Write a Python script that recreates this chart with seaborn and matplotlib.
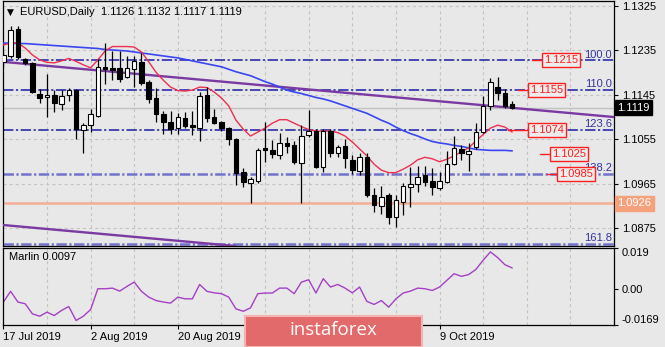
import matplotlib
matplotlib.use("Agg")
import matplotlib.pyplot as plt
import matplotlib.transforms as mtransforms
from matplotlib.patches import Rectangle
import numpy as np
import pandas as pd
import seaborn as sns

sns.set_theme(style="white")
plt.rcParams["font.family"] = ["Liberation Sans", "DejaVu Sans"]
plt.rcParams["lines.scale_dashes"] = False

# ---- EURUSD daily bars -------------------------------------------------
dates = pd.bdate_range("2019-07-17", "2019-10-23")

opens = [1.1212, 1.1224, 1.1278, 1.1217, 1.1209, 1.1148, 1.1140, 1.1146, 1.1126, 1.1146,
         1.1155, 1.1074, 1.1085, 1.1103, 1.1202, 1.1199, 1.1199, 1.1181, 1.1198, 1.1212,
         1.1172, 1.1138, 1.1106, 1.1091, 1.1078, 1.1099, 1.1084, 1.1079, 1.1144, 1.1101,
         1.1091, 1.1078, 1.1056, 1.0990, 1.0967, 1.0971, 1.1037, 1.1034, 1.1024, 1.1047,
         1.1044, 1.1007, 1.1064, 1.1073, 1.1000, 1.1073, 1.1027, 1.1042, 1.1014, 1.0992,
         1.1020, 1.0943, 1.0921, 1.0943, 1.0899, 1.0929, 1.0958, 1.0964, 1.0983, 1.0972,
         1.0956, 1.0970, 1.1005, 1.1036, 1.1025, 1.1039, 1.1071, 1.1123, 1.1161, 1.1150,
         1.1126]
highs = [1.1234, 1.1285, 1.1285, 1.1220, 1.1212, 1.1157, 1.1187, 1.1155, 1.1155, 1.1159,
         1.1157, 1.1088, 1.1117, 1.1218, 1.1251, 1.1234, 1.1233, 1.1224, 1.1224, 1.1230,
         1.1175, 1.1159, 1.1113, 1.1113, 1.1108, 1.1111, 1.1113, 1.1151, 1.1162, 1.1117,
         1.1092, 1.1080, 1.1058, 1.0997, 1.0979, 1.1038, 1.1090, 1.1054, 1.1068, 1.1061,
         1.1051, 1.1084, 1.1115, 1.1076, 1.1076, 1.1076, 1.1044, 1.1057, 1.1024, 1.1027,
         1.1027, 1.0957, 1.0960, 1.0947, 1.0943, 1.0968, 1.1000, 1.1001, 1.1001, 1.0997,
         1.0990, 1.1032, 1.1062, 1.1044, 1.1047, 1.1089, 1.1142, 1.1180, 1.1181, 1.1157,
         1.1132]
lows = [1.1201, 1.1220, 1.1218, 1.1206, 1.1150, 1.1128, 1.1101, 1.1111, 1.1115, 1.1133,
        1.1057, 1.1028, 1.1070, 1.1101, 1.1167, 1.1175, 1.1172, 1.1179, 1.1162, 1.1165,
        1.1129, 1.1091, 1.1066, 1.1066, 1.1066, 1.1078, 1.1064, 1.1051, 1.1091, 1.1086,
        1.1072, 1.1044, 1.0963, 1.0958, 1.0926, 1.0967, 1.1009, 1.1017, 1.1016, 1.1027,
        1.1005, 1.0926, 1.1060, 1.0997, 1.0990, 1.1020, 1.1020, 1.0997, 1.0985, 1.0983,
        1.0939, 1.0909, 1.0904, 1.0884, 1.0879, 1.0902, 1.0919, 1.0949, 1.0960, 1.0943,
        1.0953, 1.0967, 1.1003, 1.1014, 1.0992, 1.1036, 1.1068, 1.1115, 1.1135, 1.1118,
        1.1117]
closes = [1.1226, 1.1276, 1.1222, 1.1209, 1.1152, 1.1138, 1.1146, 1.1129, 1.1143, 1.1155,
          1.1076, 1.1084, 1.1107, 1.1202, 1.1198, 1.1196, 1.1177, 1.1199, 1.1214, 1.1169,
          1.1137, 1.1107, 1.1091, 1.1076, 1.1101, 1.1082, 1.1080, 1.1142, 1.1099, 1.1089,
          1.1078, 1.1056, 1.0987, 1.0970, 1.0975, 1.1034, 1.1034, 1.1026, 1.1047, 1.1042,
          1.1010, 1.1063, 1.1072, 1.1000, 1.1073, 1.1027, 1.1040, 1.1017, 1.0993, 1.1020,
          1.0942, 1.0923, 1.0938, 1.0899, 1.0933, 1.0960, 1.0964, 1.0979, 1.0970, 1.0958,
          1.0971, 1.1005, 1.1038, 1.1027, 1.1032, 1.1071, 1.1123, 1.1172, 1.1150, 1.1123,
          1.1119]

# fast (red) and slow (blue) moving averages
ma_fast = [1.1246, 1.1250, 1.1250, 1.1240, 1.1226, 1.1216, 1.1211, 1.1210, 1.1214, 1.1219,
           1.1213, 1.1206, 1.1200, 1.1216, 1.1234, 1.1243, 1.1243, 1.1243, 1.1242, 1.1232,
           1.1212, 1.1191, 1.1175, 1.1161, 1.1154, 1.1153, 1.1155, 1.1161, 1.1160, 1.1151,
           1.1139, 1.1123, 1.1094, 1.1076, 1.1062, 1.1070, 1.1078, 1.1088, 1.1095, 1.1095,
           1.1088, 1.1081, 1.1075, 1.1072, 1.1072, 1.1072, 1.1069, 1.1062, 1.1050, 1.1036,
           1.1022, 1.1005, 1.0993, 1.0988, 1.0988, 1.0995, 1.1003, 1.1014, 1.1019, 1.1016,
           1.1010, 1.1015, 1.1022, 1.1030, 1.1038, 1.1052, 1.1065, 1.1078, 1.1084, 1.1080,
           1.1070]
ma_slow = [1.1250, 1.1250, 1.1249, 1.1249, 1.1248, 1.1247, 1.1246, 1.1245, 1.1244, 1.1243,
           1.1242, 1.1241, 1.1240, 1.1239, 1.1237, 1.1236, 1.1235, 1.1234, 1.1232, 1.1230,
           1.1228, 1.1226, 1.1224, 1.1222, 1.1220, 1.1217, 1.1214, 1.1211, 1.1208, 1.1205,
           1.1202, 1.1197, 1.1192, 1.1188, 1.1184, 1.1178, 1.1172, 1.1167, 1.1161, 1.1155,
           1.1151, 1.1148, 1.1144, 1.1140, 1.1137, 1.1133, 1.1128, 1.1123, 1.1118, 1.1113,
           1.1108, 1.1101, 1.1094, 1.1088, 1.1080, 1.1073, 1.1067, 1.1062, 1.1056, 1.1051,
           1.1048, 1.1046, 1.1043, 1.1041, 1.1038, 1.1035, 1.1034, 1.1033, 1.1033, 1.1033,
           1.1032]

marlin = [-0.0062, -0.0012, -0.0062, -0.0070, -0.0117, -0.0128, -0.0109, -0.0125, -0.0101, -0.0083,
          -0.0148, -0.0128, -0.0097, 0.0000, 0.0000, 0.0003, -0.0011, 0.0011, 0.0031, -0.0012,
          -0.0039, -0.0055, -0.0062, -0.0067, -0.0039, -0.0047, -0.0047, 0.0020, -0.0012, -0.0019,
          -0.0023, -0.0039, -0.0094, -0.0105, -0.0089, -0.0023, -0.0020, -0.0020, 0.0003, 0.0003,
          -0.0023, 0.0031, 0.0042, -0.0020, 0.0047, 0.0008, 0.0020, 0.0003, -0.0019, 0.0008,
          -0.0059, -0.0073, -0.0055, -0.0086, -0.0047, -0.0020, -0.0011, 0.0003, 0.0000, -0.0008,
          0.0008, 0.0039, 0.0070, 0.0058, 0.0066, 0.0090, 0.0133, 0.0172, 0.0145, 0.0112,
          0.0097]

# Fibonacci extension levels
fib_levels = [1.1215, 1.1155, 1.1074, 1.0985, 1.0844]
fib_labels = ["100.0", "110.0", "123.6", "138.2", "161.8"]
# target price marks
target_prices = [1.1215, 1.1155, 1.1074, 1.1025, 1.0985]
support_level = 1.0926
# price channel: upper line through two bars, lower line parallel to it
channel_bars = [0, 70]
channel_upper = [1.1212, 1.1119]
channel_lower_start = 1.0882

price_ticks = [1.1325, 1.1235, 1.1145, 1.1055, 1.0965, 1.0875]
marlin_ticks = [0.019, 0.0, -0.0169]
marlin_tick_labels = ["0.019", "0.00", "-0.0169"]

# ---- figure layout --------------------------------------------------------
W, H = 665, 347
BG = "#e8e8e8"
fig = plt.figure(figsize=(W / 100, H / 100), dpi=100, facecolor=BG)
ax = fig.add_axes([3 / W, 1 - 246 / H, 611 / W, 245 / H])
ax2 = fig.add_axes([3 / W, 1 - 325 / H, 611 / W, 77 / H], sharex=ax)
for a in (ax, ax2):
    a.set_facecolor(BG)
    for s in a.spines.values():
        s.set_visible(True)
        s.set_color("black")
        s.set_linewidth(0.9)

idx = np.arange(len(dates))
xmax = 84.0
ax.set_xlim(-0.05, xmax)
ax.set_ylim(1.08396, 1.13351)
ax2.set_ylim(-0.0169, 0.019)

grid_kw = dict(color="#c3c3c3", lw=0.8, linestyle=(0, (2.2, 2.2)), zorder=0)
for g in np.arange(6, xmax + 1, 6):
    ax.axvline(g, **grid_kw)
    ax2.axvline(g, **grid_kw)
for t in price_ticks:
    ax.axhline(t, **grid_kw)

# support line and last-price line
ax.axhline(support_level, color="#f5ad95", lw=1.8, zorder=1)
ax.axhline(closes[-1], color="#c2c2c2", lw=1.0, zorder=1)

# Fibonacci levels
fib_colors = ["#1c1ca6", "#1c1ca6", "#1c1ca6", "#7272cc", "#7272cc"]
fib_widths = [1.1, 1.1, 1.1, 1.8, 1.8]
for lvl, lab, c, w in zip(fib_levels, fib_labels, fib_colors, fib_widths):
    ax.axhline(lvl, color=c, lw=w, linestyle=(0, (7.5, 1.8, 1.6, 1.8)), zorder=2)
    ax.annotate(lab, xy=(1.0, lvl), xycoords=("axes fraction", "data"),
                xytext=(-1.5, 0.5), textcoords="offset points",
                ha="right", va="bottom", fontsize=8, color="#34349c", zorder=6)

# channel lines
slope = (channel_upper[1] - channel_upper[0]) / (channel_bars[1] - channel_bars[0])
ax.axline((channel_bars[0], channel_upper[0]), slope=slope, color="#7a3aa2", lw=1.7, zorder=3)
ax.axline((channel_bars[0], channel_lower_start), slope=slope, color="#7a3aa2", lw=1.7, zorder=3)

# moving averages
sns.lineplot(x=idx, y=ma_slow, ax=ax, color="#3a46f0", lw=1.2, zorder=4, legend=False)
sns.lineplot(x=idx, y=ma_fast, ax=ax, color="#ec3050", lw=1.0, zorder=4, legend=False)

# candles
o = np.array(opens); c = np.array(closes)
h = np.array(highs); l = np.array(lows)
bull = c >= o
ax.vlines(idx, l, h, color="black", lw=0.9, zorder=5)
body = np.maximum(np.abs(c - o), 0.00004)
ax.bar(idx[bull], body[bull], bottom=np.minimum(o, c)[bull], width=0.62,
       color="white", edgecolor="black", linewidth=0.8, zorder=6)
ax.bar(idx[~bull], body[~bull], bottom=np.minimum(o, c)[~bull], width=0.62,
       color="black", edgecolor="black", linewidth=0.8, zorder=6)

# target price marks: short stub and boxed price
box_left = [74.1, 72.2, 72.2, 75.2, 76.2]
stub_len = [1.4, 1.4, 2.8, 1.4, 1.4]
for p, bx, sl in zip(target_prices, box_left, stub_len):
    ax.plot([bx - sl, bx], [p, p], color="#ff2020", lw=1.0, zorder=7)
    ax.text(bx + 0.25, p, f"{p:.4f}", ha="left", va="center", fontsize=8, color="#ff1e1e",
            zorder=8, bbox=dict(boxstyle="square,pad=0.18", fc="#ececec", ec="#ff2020", lw=1.0))

# right price axis
ax.yaxis.tick_right()
ax.set_yticks(price_ticks)
ax.set_yticklabels([f"{t:.4f}" for t in price_ticks])
ax.tick_params(axis="y", which="both", right=True, length=3, width=0.8, pad=2.5,
               labelsize=8, colors="black")
ax.tick_params(axis="x", bottom=False, labelbottom=False)
ax.set_xlabel(""); ax.set_ylabel("")

tr = mtransforms.blended_transform_factory(ax.transAxes, ax.transData)
off = mtransforms.ScaledTranslation(3.5 / 100, 0, fig.dpi_scale_trans)
ax.text(1.0, closes[-1], f"{closes[-1]:.4f}", transform=tr + off, ha="left", va="center",
        fontsize=8, color="white", clip_on=False, zorder=9,
        bbox=dict(boxstyle="square,pad=0.22", fc="black", ec="black"))
ax.text(1.0, support_level, f"{support_level:.4f}", transform=tr + off, ha="left", va="center",
        fontsize=8, color="white", clip_on=False, zorder=9,
        bbox=dict(boxstyle="square,pad=0.22", fc="#f5a27c", ec="#f5a27c"))

# Marlin oscillator
sns.lineplot(x=idx, y=marlin, ax=ax2, color="#a540c4", lw=1.0, legend=False)
ax2.yaxis.tick_right()
ax2.set_yticks(marlin_ticks)
ax2.set_yticklabels(marlin_tick_labels)
ax2.tick_params(axis="y", right=True, length=3, width=0.8, pad=2.5, labelsize=8, colors="black")
ylabels = ax2.get_yticklabels()
ylabels[0].set_verticalalignment("top")
ylabels[-1].set_verticalalignment("bottom")
ax2.set_ylabel("")

# date axis
tick_idx = list(range(0, len(dates), 12))
ax2.set_xticks(tick_idx)
ax2.set_xticklabels([f"{dates[i].day} {dates[i].strftime('%b %Y')}" for i in tick_idx])
ax2.tick_params(axis="x", bottom=True, length=3, width=0.8, pad=2, labelsize=8, colors="black")
for lab in ax2.get_xticklabels():
    lab.set_horizontalalignment("left")
ax2.set_xlabel("")
ax2.set_xlim(-0.05, xmax)

ax2.text(6 / 611, 1 - 9 / 77, f"Marlin {marlin[-1]:.4f}", transform=ax2.transAxes,
         ha="left", va="center", fontsize=8, color="black")

# chart header
fig.text(7 / W, 1 - 12 / H, "\u25bc", fontsize=6.5, ha="left", va="center",
         family=["DejaVu Sans"], color="black")
fig.text(20 / W, 1 - 12 / H,
         f"EURUSD,Daily  {opens[-1]:.4f} {highs[-1]:.4f} {lows[-1]:.4f} {closes[-1]:.4f}",
         fontsize=8, ha="left", va="center", color="black")

# watermark banner
fig.patches.append(Rectangle((245 / W, 0), 177 / W, 31 / H, transform=fig.transFigure,
                             fc="#e36a6a", ec="#f3b3b3", lw=1.5, zorder=20))
fig.text(333 / W, 1 - 330 / H, "instaforex", fontsize=13.5, color="white",
         family=["Open Sans", "DejaVu Sans"], ha="center", va="center", zorder=21)

fig.savefig("out.png", dpi=100, facecolor=BG)
